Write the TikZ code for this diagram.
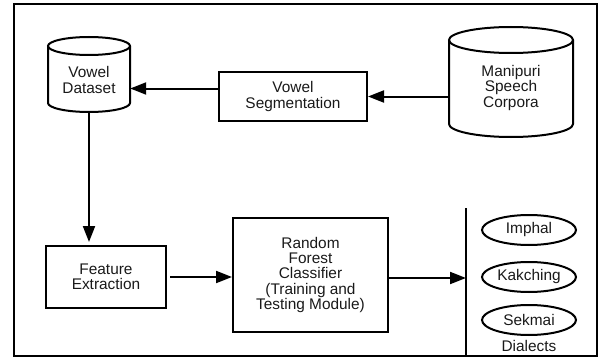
\documentclass[tikz,border=0pt]{standalone}
\usepackage{fontspec}
\setmainfont{Liberation Sans}
\usetikzlibrary{arrows.meta,calc,shapes.geometric}
\def\drum[#1](#2,#3)(#4:#5:#6){\draw[#1] ({#2-#4},{#3+#5-#6}) -- ({#2-#4},{#3-#5+#6}) arc (180:360:#4 and #6) -- ({#2+#4},{#3+#5-#6}); \draw[#1] (#2,{#3+#5-#6}) ellipse (#4 and #6);}

\begin{document}
\begin{tikzpicture}[x=1pt, y=1pt,
	every node/.style={font=\fontsize{15.4}{15.3}\selectfont, align=center, text=black!90},
	box/.style={draw, line width=2pt, inner sep=0},
	dial/.style={draw, ellipse, line width=2pt, minimum width=94, minimum height=30, inner sep=0},
	arr/.style={line width=2pt, -{Triangle[length=16pt, width=12pt]}}]
		%%%%% START %%%%%
		\useasboundingbox (0, 0) rectangle (600, 357);
		\draw[line width=2.4pt] (14, 1) rectangle (597, 353);
		
		\drum[line width=2pt](89,282.5)(41:37.5:9)
		\node (dataset) [minimum width=82, minimum height=64, inner sep=0] at (89, 277) {Vowel\\Dataset};
		
		\drum[line width=2pt](511,275)(62:55:13)
		\node (corpora) [minimum width=124, minimum height=98, inner sep=0] at (511, 269) {Manipuri\\Speech\\Corpora};
		
		\node (vseg) [box, minimum width=148, minimum height=49] at (293, 260.5) {Vowel\\Segmentation};
		\node (feat) [box, minimum width=120, minimum height=62] at (106, 80) {Feature\\Extraction};
		\node (forest) [box, minimum width=155, minimum height=114] at (310.5, 82) {Random\\Forest\\Classifier\\(Training and\\Testing Module)};
		
		\coordinate (dtop) at (466, 149);
		\coordinate (dbot) at (466, 1);
		\draw[line width=2pt] (dtop) -- (dbot);
		
		\node (imphal) [dial] at (529, 127) {Imphal};
		\node (kakching) [dial] at (529, 80) {Kakching};
		\node (sekmai) [dial] at (529, 37) {Sekmai};
		\node (dialects) at (529, 11) {Dialects};
		
		\draw[arr] (corpora.west |- vseg) -- (vseg.east);
		\draw[arr] ([yshift=8pt]vseg.west) -- ([yshift=8pt]vseg.west -| dataset.east);
		\draw[arr, shorten >=3pt] (dataset.south) -- (dataset.south |- feat.north);
		\draw[arr, shorten <=3pt] (feat.east) -- (feat.east -| forest.west);
		\draw[arr] ([yshift=-3pt]forest.east) -- ([yshift=-3pt]forest.east -| dtop);
		%%%%% END %%%%%
\end{tikzpicture}
\end{document}
